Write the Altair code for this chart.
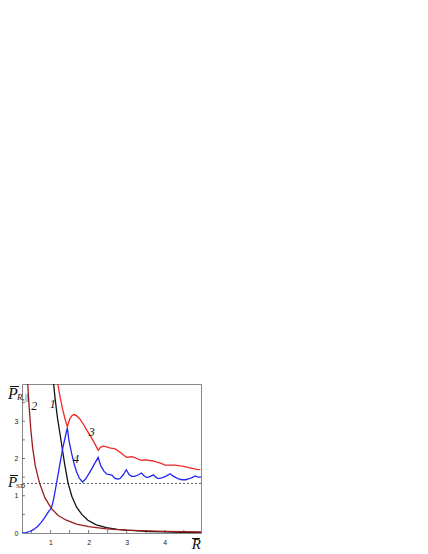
import altair as alt
import pandas as pd

# ---- data ----
curve1 = [(1.08, 4.0), (1.12, 3.6), (1.18, 3.1), (1.28, 2.45), (1.37, 1.85), (1.46, 1.34),
          (1.56, 0.98), (1.68, 0.70), (1.82, 0.50), (1.98, 0.34), (2.2, 0.22), (2.47, 0.145),
          (2.75, 0.10), (3.0, 0.075), (3.3, 0.055), (3.6, 0.04), (4.0, 0.028), (4.4, 0.02), (4.95, 0.012)]

curve2 = [(0.40, 4.0), (0.44, 3.35), (0.48, 2.8), (0.53, 2.28), (0.60, 1.8), (0.71, 1.34),
          (0.85, 0.95), (1.02, 0.66), (1.2, 0.47), (1.4, 0.35), (1.68, 0.24), (2.0, 0.17),
          (2.47, 0.11), (3.0, 0.075), (3.5, 0.055), (4.0, 0.042), (4.5, 0.033), (4.95, 0.027)]

curve3 = [(1.19, 4.0), (1.25, 3.65), (1.31, 3.35), (1.37, 3.1), (1.44, 2.85), (1.50, 3.05),
          (1.56, 3.15), (1.61, 3.18), (1.68, 3.15), (1.77, 3.06), (1.86, 2.92), (1.95, 2.76),
          (2.05, 2.6), (2.15, 2.42), (2.25, 2.22), (2.31, 2.30), (2.38, 2.33), (2.45, 2.32),
          (2.51, 2.30), (2.58, 2.28), (2.64, 2.27), (2.71, 2.25), (2.77, 2.21), (2.85, 2.15),
          (2.93, 2.08), (3.0, 2.03), (3.07, 2.04), (3.13, 2.05), (3.2, 2.03), (3.26, 2.0),
          (3.33, 1.97), (3.39, 1.95), (3.46, 1.96), (3.52, 1.96), (3.59, 1.95), (3.66, 1.94),
          (3.73, 1.92), (3.79, 1.90), (3.86, 1.88), (3.92, 1.86), (4.01, 1.82), (4.08, 1.82),
          (4.14, 1.82), (4.2, 1.82), (4.27, 1.82), (4.34, 1.81), (4.41, 1.80), (4.5, 1.79),
          (4.58, 1.77), (4.66, 1.75), (4.75, 1.73), (4.84, 1.71), (4.93, 1.70)]

curve4 = [(0.25, 0.0), (0.35, 0.01), (0.45, 0.04), (0.55, 0.09), (0.65, 0.17), (0.75, 0.28),
          (0.85, 0.42), (0.95, 0.58), (1.02, 0.66), (1.08, 0.9), (1.15, 1.3), (1.22, 1.7),
          (1.28, 2.05), (1.32, 2.28), (1.38, 2.55), (1.44, 2.82), (1.48, 2.5), (1.55, 2.15),
          (1.62, 1.85), (1.68, 1.65), (1.75, 1.48), (1.84, 1.37), (1.92, 1.45), (2.0, 1.58),
          (2.08, 1.72), (2.16, 1.87), (2.25, 2.03), (2.32, 1.8), (2.4, 1.66), (2.48, 1.58),
          (2.56, 1.57), (2.62, 1.55), (2.68, 1.47), (2.75, 1.45), (2.82, 1.46), (2.9, 1.55),
          (2.99, 1.70), (3.06, 1.57), (3.13, 1.52), (3.2, 1.52), (3.28, 1.55), (3.39, 1.61),
          (3.46, 1.53), (3.53, 1.49), (3.62, 1.52), (3.7, 1.56), (3.76, 1.50), (3.83, 1.46),
          (3.92, 1.48), (4.02, 1.52), (4.14, 1.59), (4.2, 1.54), (4.27, 1.50), (4.36, 1.45),
          (4.45, 1.43), (4.55, 1.43), (4.62, 1.45), (4.7, 1.48), (4.8, 1.53), (4.87, 1.50),
          (4.95, 1.50)]

series_names = ["1", "2", "3", "4"]
series_colors = ["#111111", "#9a1c1c", "#f02828", "#2626f0"]

p_sd = 1.33

label_text = ["1", "2", "3", "4"]
label_x = [1.06, 0.57, 2.08, 1.67]
label_y = [3.45, 3.40, 2.72, 1.98]

x_tick_vals = [0.5, 1, 1.5, 2, 2.5, 3, 3.5, 4, 4.5]
y_tick_vals = [0.5, 1, 1.5, 2, 2.5, 3, 3.5]
x_label_vals = [1, 2, 3, 4]
y_label_vals = [0, 1, 2, 3]

# ---- build tables ----
rows = []
for name, pts in zip(series_names, [curve1, curve2, curve3, curve4]):
    for i, (x, y) in enumerate(pts):
        rows.append({"series": name, "x": x, "y": y, "order": i})
df = pd.DataFrame(rows)
labels_df = pd.DataFrame({"t": label_text, "x": label_x, "y": label_y})

W, H = 179, 149
xs = alt.Scale(domain=[0.25, 4.95], nice=False, zero=False)
ys = alt.Scale(domain=[0, 4], nice=False, zero=False)

lines = alt.Chart(df).mark_line(strokeWidth=1.3, clip=True).encode(
    x=alt.X("x:Q", scale=xs,
            axis=alt.Axis(values=x_label_vals, title=None, domain=False, ticks=False,
                          grid=False, labelFontSize=7, labelPadding=5,
                          labelFont="Liberation Sans", labelColor="#222")),
    y=alt.Y("y:Q", scale=ys,
            axis=alt.Axis(values=y_label_vals, title=None, domain=False, ticks=False,
                          grid=False, labelFontSize=7, labelPadding=4,
                          labelFont="Liberation Sans", labelColor="#222")),
    color=alt.Color("series:N", scale=alt.Scale(domain=series_names, range=series_colors),
                    legend=None),
    detail="series:N",
    order="order:Q",
)

sd_rule = alt.Chart(pd.DataFrame({"y": [p_sd]})).mark_rule(
    color="#333", strokeDash=[2, 2], strokeWidth=0.8
).encode(y=alt.Y("y:Q", scale=ys))

labels = alt.Chart(labels_df).mark_text(
    font="Liberation Serif", fontStyle="italic", fontSize=12, color="#111",
    align="center", baseline="middle"
).encode(x=alt.X("x:Q", scale=xs), y=alt.Y("y:Q", scale=ys), text="t:N")

xt = alt.Chart(pd.DataFrame({"v": x_tick_vals})).mark_rule(color="#555", strokeWidth=0.8).encode(
    x=alt.X("v:Q", scale=xs), y=alt.value(H), y2=alt.value(H - 3))
yt = alt.Chart(pd.DataFrame({"v": y_tick_vals})).mark_rule(color="#555", strokeWidth=0.8).encode(
    y=alt.Y("v:Q", scale=ys), x=alt.value(0), x2=alt.value(3))


def txt(s, x, y, size, align="left", style="italic"):
    return alt.Chart(pd.DataFrame({"t": [s]})).mark_text(
        font="Liberation Serif", fontStyle=style, fontSize=size, color="#111",
        align=align, baseline="alphabetic"
    ).encode(text="t:N", x=alt.value(x), y=alt.value(y))


def bar(x1, x2, y):
    return alt.Chart(pd.DataFrame({"a": [0]})).mark_rule(color="#111", strokeWidth=1).encode(
        x=alt.value(x1), x2=alt.value(x2), y=alt.value(y))


y_title = (txt("P", -14, 15, 16) + bar(-12, -3, 2.5)
           + txt("R,", -5, 16, 9) + txt("||", 3, 16, 9, style="normal"))
sd_title = txt("P", -14, 103, 15) + bar(-12, -4, 91.5) + txt("SD", -6, 104, 7, style="normal")
x_title = txt("R", W, 165, 15, align="right") + bar(W - 9, W - 1, 154.5)

chart = alt.layer(xt, yt, sd_rule, lines, labels, y_title, sd_title, x_title).properties(
    width=W, height=H,
    autosize=alt.AutoSizeParams(type="none"),
    padding={"left": 14, "top": 376, "right": 20, "bottom": 18},
).configure_view(stroke="#888888", strokeWidth=1)

chart.save("out.html", embed_options={"renderer": "svg", "actions": False})
